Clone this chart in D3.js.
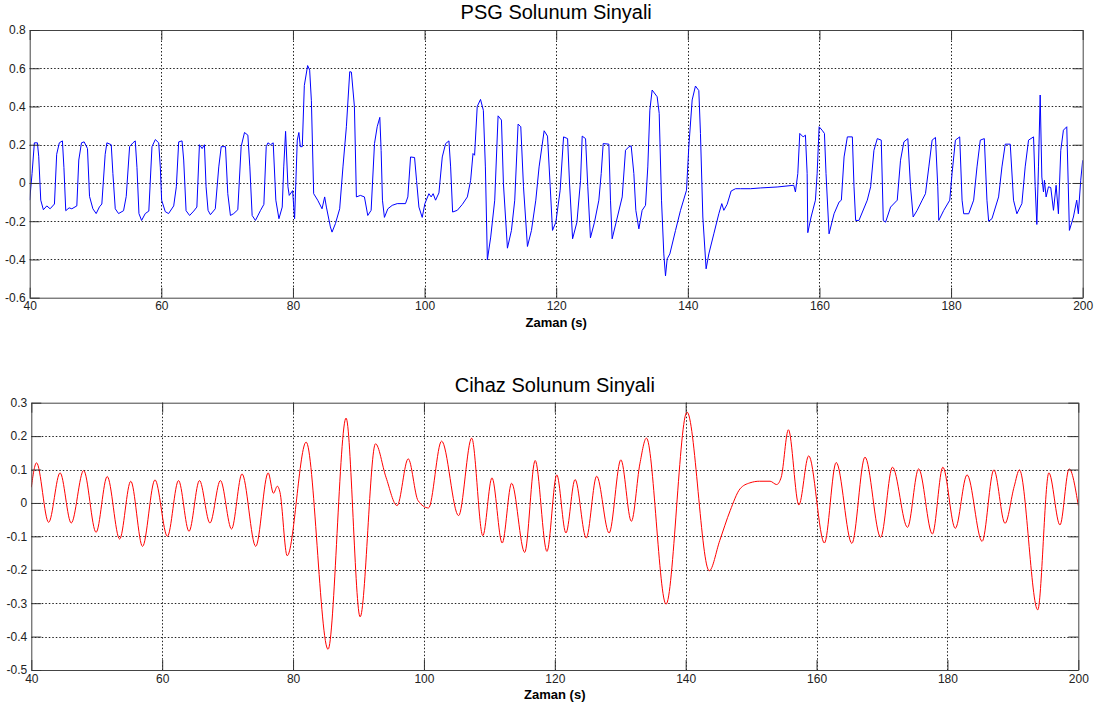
<!DOCTYPE html>
<html>
<head>
<meta charset="utf-8">
<script src="https://cdn.jsdelivr.net/npm/d3@7"></script>
<style>
  body { margin: 0; background: #fff; }
  svg { display: block; font-family: Arial, "Liberation Sans", sans-serif; }
</style>
</head>
<body>
<div id="chart"></div>
<script>
// time axis ticks shared by both panels
const timeTicks = [40, 60, 80, 100, 120, 140, 160, 180, 200];
const psgYTicks = [-0.6, -0.4, -0.2, 0, 0.2, 0.4, 0.6, 0.8];
const cihazYTicks = [-0.5, -0.4, -0.3, -0.2, -0.1, 0, 0.1, 0.2, 0.3];

// PSG signal, [time (s), value]
const psgSignal = [
  [40.0, -0.09], [40.36, 0.05], [40.71, 0.21], [41.17, 0.21], [41.37, 0.14], [41.68, -0.09],
  [42.08, -0.14], [42.6, -0.12], [43.1, -0.135], [43.76, -0.11], [44.1, 0.15], [44.5, 0.21],
  [44.97, 0.22], [45.2, 0.08], [45.48, -0.145], [45.99, -0.13], [46.4, -0.135], [47.16, -0.12],
  [47.46, 0.12], [47.87, 0.21], [48.27, 0.215], [48.78, 0.18], [49.09, -0.07], [49.6, -0.135],
  [50.1, -0.16], [50.6, -0.125], [50.96, -0.11], [51.47, 0.15], [51.73, 0.21], [52.39, 0.2],
  [52.64, 0.05], [53.0, -0.135], [53.5, -0.16], [54.26, -0.145], [54.67, -0.07], [55.18, 0.19],
  [55.69, 0.21], [56.04, 0.22], [56.3, 0.08], [56.6, -0.16], [57.0, -0.196], [57.56, -0.16],
  [58.1, -0.147], [58.58, 0.19], [59.09, 0.227], [59.6, 0.21], [59.85, 0.08], [60.05, -0.09],
  [60.6, -0.15], [61.1, -0.16], [61.88, -0.12], [62.28, -0.02], [62.64, 0.215], [63.15, 0.22],
  [63.4, 0.12], [63.76, -0.145], [64.3, -0.17], [64.92, -0.147], [65.4, -0.126], [65.79, 0.2],
  [66.2, 0.18], [66.55, 0.2], [66.8, -0.02], [67.1, -0.143], [67.46, -0.166], [68.2, -0.135],
  [68.73, 0.084], [69.1, 0.19], [69.75, 0.19], [70.1, -0.056], [70.5, -0.17], [71.0, -0.16],
  [71.62, -0.14], [72.13, 0.19], [72.64, 0.264], [73.15, 0.25], [73.45, 0.084], [73.8, -0.17],
  [74.3, -0.196], [75.08, -0.143], [75.58, -0.112], [75.94, 0.19], [76.2, 0.21], [76.6, 0.2],
  [77.0, 0.21], [77.4, -0.09], [77.87, -0.187], [78.37, -0.126], [78.6, 0.084], [78.88, 0.27],
  [79.24, -0.02], [79.44, -0.065], [79.95, -0.04], [80.25, -0.187], [80.66, 0.224], [80.9, 0.264],
  [81.12, 0.19], [81.42, 0.19], [81.73, 0.51], [82.23, 0.614], [82.54, 0.59], [82.8, 0.43],
  [83.15, -0.056], [83.76, -0.09], [84.42, -0.135], [84.82, -0.073], [85.08, -0.126], [85.69, -0.23],
  [85.94, -0.257], [86.45, -0.213], [87.1, -0.135], [87.6, 0.084], [88.12, 0.294], [88.63, 0.582],
  [88.88, 0.58], [89.34, 0.4], [89.64, -0.073], [90.25, -0.065], [90.86, -0.073], [91.37, -0.17],
  [91.88, -0.143], [92.39, 0.206], [92.8, 0.294], [93.2, 0.343], [93.4, 0.17], [93.6, -0.09],
  [93.9, -0.18], [94.42, -0.135], [95.08, -0.117], [95.84, -0.108], [97.1, -0.108], [97.46, -0.073],
  [97.87, 0.136], [98.48, 0.133], [98.78, 0.014], [99.14, -0.126], [99.64, -0.18], [100.05, -0.108],
  [100.66, -0.056], [101.0, -0.073], [101.3, -0.056], [101.67, -0.09], [102.18, -0.052], [102.69, 0.136],
  [103.2, 0.206], [103.7, 0.22], [103.96, 0.084], [104.26, -0.152], [104.97, -0.143], [105.74, -0.112],
  [106.5, -0.073], [107.0, 0.014], [107.36, 0.154], [107.6, 0.145], [108.0, 0.4], [108.5, 0.437],
  [108.93, 0.38], [109.24, 0.084], [109.54, -0.402], [110.05, -0.283], [110.66, -0.09], [111.17, 0.351],
  [111.68, 0.329], [111.98, -0.003], [112.59, -0.341], [113.2, -0.248], [113.7, -0.09], [114.21, 0.308],
  [114.62, 0.294], [115.03, -0.02], [115.63, -0.332], [116.24, -0.248], [116.9, -0.09], [117.4, 0.084],
  [118.17, 0.273], [118.68, 0.245], [119.09, -0.02], [119.44, -0.248], [119.95, -0.205], [120.6, -0.038],
  [121.12, 0.241], [121.73, 0.232], [122.03, -0.003], [122.49, -0.292], [123.15, -0.205], [123.7, 0.014],
  [123.95, 0.245], [124.46, 0.232], [124.8, -0.02], [125.2, -0.287], [125.82, -0.205], [126.48, -0.09],
  [126.84, 0.049], [127.14, 0.206], [128.0, 0.203], [128.25, -0.09], [128.5, -0.292], [129.11, -0.205],
  [130.03, -0.073], [130.53, 0.171], [131.04, 0.189], [131.39, 0.194], [131.8, 0.049], [132.1, -0.143],
  [132.56, -0.24], [133.06, -0.143], [133.57, -0.117], [133.92, 0.084], [134.23, 0.381], [134.58, 0.486],
  [135.34, 0.451], [135.65, 0.364], [136.0, -0.09], [136.35, -0.371], [136.61, -0.486], [136.86, -0.397],
  [137.27, -0.371], [138.13, -0.248], [138.89, -0.143], [139.8, -0.038], [140.15, 0.189], [140.66, 0.434],
  [141.16, 0.507], [141.67, 0.483], [141.92, 0.259], [142.28, -0.178], [142.78, -0.449], [143.19, -0.371],
  [143.95, -0.266], [144.71, -0.161], [145.16, -0.108], [145.47, -0.143], [145.97, -0.112], [146.58, -0.042],
  [147.25, -0.03], [148.0, -0.03], [149.52, -0.03], [151.04, -0.026], [153.57, -0.021], [156.1, -0.012],
  [156.35, -0.047], [156.71, 0.049], [157.01, 0.259], [157.52, 0.241], [157.87, 0.25], [158.13, 0.049],
  [158.23, -0.26], [158.73, -0.178], [159.39, -0.09], [159.65, 0.049], [159.95, 0.294], [160.4, 0.276],
  [160.76, 0.259], [161.0, 0.049], [161.46, -0.266], [162.22, -0.161], [162.98, -0.1], [163.33, -0.09],
  [163.74, 0.136], [164.24, 0.241], [165.0, 0.241], [165.25, -0.02], [165.5, -0.196], [166.0, -0.196],
  [167.27, -0.09], [167.78, -0.02], [168.28, 0.171], [168.79, 0.232], [169.39, 0.224], [169.7, -0.196],
  [170.05, -0.205], [170.81, -0.126], [171.82, -0.09], [172.32, 0.119], [172.83, 0.215], [173.43, 0.232],
  [173.84, -0.02], [174.24, -0.178], [174.85, -0.143], [175.61, -0.09], [176.11, -0.056], [176.62, 0.084],
  [177.12, 0.224], [177.63, 0.238], [177.98, -0.02], [178.13, -0.196], [178.89, -0.143], [179.8, -0.09],
  [180.15, 0.049], [180.66, 0.224], [181.31, 0.241], [181.67, -0.09], [181.92, -0.161], [182.68, -0.161],
  [183.43, -0.09], [183.94, 0.084], [184.44, 0.224], [185.05, 0.232], [185.45, -0.09], [185.71, -0.2],
  [186.21, -0.187], [187.22, -0.073], [187.73, 0.084], [188.23, 0.203], [188.99, 0.203], [189.49, -0.09],
  [190.0, -0.161], [190.76, -0.108], [191.26, 0.084], [191.77, 0.224], [192.53, 0.241], [192.78, -0.02],
  [193.03, -0.217], [193.28, 0.084], [193.54, 0.46], [193.79, 0.031], [194.04, -0.047], [194.19, 0.014],
  [194.44, -0.073], [194.8, -0.02], [195.15, -0.024], [195.56, -0.143], [195.96, -0.012], [196.31, -0.161],
  [196.67, 0.171], [197.07, 0.276], [197.58, 0.294], [197.98, -0.248], [198.59, -0.178], [199.09, -0.09],
  [199.34, -0.161], [199.7, 0.014], [200.0, 0.119]
];

// device signal, peaks and troughs [time (s), value]
const cihazSignal = [
  [40.0, 0.047], [40.8, 0.12], [42.65, -0.058], [44.4, 0.09], [46.1, -0.06], [48.0, 0.097],
  [49.9, -0.088], [51.6, 0.079], [53.5, -0.108], [55.2, 0.065], [57.0, -0.13], [58.9, 0.069],
  [60.8, -0.1], [62.5, 0.067], [64.1, -0.085], [65.7, 0.067], [67.3, -0.06], [68.9, 0.067],
  [70.6, -0.078], [72.2, 0.087], [74.3, -0.13], [76.2, 0.09], [77.0, 0.029], [77.6, 0.05],
  [78.0, 0.032], [79.1, -0.158], [82.0, 0.182], [85.35, -0.438], [88.1, 0.254], [90.25, -0.341],
  [92.6, 0.177], [94.2, 0.077], [95.9, -0.008], [97.6, 0.132], [99.1, 0.007], [100.7, -0.015],
  [102.7, 0.185], [105.3, -0.038], [107.3, 0.194], [109.0, -0.098], [110.4, 0.075], [111.96, -0.12],
  [113.4, 0.059], [115.4, -0.148], [117.0, 0.127], [118.8, -0.145], [120.3, 0.084], [121.7, -0.09],
  [123.1, 0.07], [124.8, -0.105], [126.4, 0.08], [128.3, -0.09], [130.1, 0.129], [131.7, -0.055],
  [133.0, 0.117], [134.0, 0.194], [137.0, -0.303], [140.2, 0.272], [143.6, -0.203], [145.2, -0.113],
  [146.8, -0.023], [148.3, 0.042], [149.8, 0.06], [151.3, 0.065], [152.9, 0.065], [153.9, 0.055],
  [154.6, 0.077], [155.7, 0.219], [157.3, -0.006], [158.8, 0.141], [161.2, -0.12], [163.0, 0.121],
  [165.4, -0.121], [167.4, 0.137], [169.8, -0.103], [171.6, 0.107], [173.9, -0.073], [175.6, 0.102],
  [177.7, -0.093], [179.3, 0.107], [181.2, -0.076], [183.0, 0.084], [185.3, -0.115], [187.1, 0.099],
  [188.8, -0.061], [190.2, 0.049], [191.0, 0.099], [193.8, -0.32], [195.5, 0.09], [197.2, -0.066],
  [198.6, 0.102], [200.0, -0.008]
];

const W = 1100, H = 709;

const svg = d3.select("#chart")
  .append("svg")
  .attr("width", W)
  .attr("height", H);

function drawPanel(opts) {
  const { left, right, top, bottom, yDomain, yTicks, data, color, title, curve, id } = opts;

  const x = d3.scaleLinear().domain([40, 200]).range([left, right]);
  const y = d3.scaleLinear().domain(yDomain).range([bottom, top]);

  const g = svg.append("g");

  // dotted grid
  g.append("g")
    .selectAll("line.vgrid")
    .data(timeTicks.slice(1, -1))
    .enter()
    .append("line")
    .attr("x1", d => Math.round(x(d)) + 0.5)
    .attr("x2", d => Math.round(x(d)) + 0.5)
    .attr("y1", top)
    .attr("y2", bottom)
    .attr("stroke", "#222")
    .attr("stroke-dasharray", "1.5,2")
    .attr("stroke-width", 1);

  g.append("g")
    .selectAll("line.hgrid")
    .data(yTicks.slice(1, -1))
    .enter()
    .append("line")
    .attr("x1", left)
    .attr("x2", right)
    .attr("y1", d => Math.round(y(d)) + 0.5)
    .attr("y2", d => Math.round(y(d)) + 0.5)
    .attr("stroke", "#222")
    .attr("stroke-dasharray", "1.5,2")
    .attr("stroke-width", 1);

  // signal
  svg.append("clipPath")
    .attr("id", id)
    .append("rect")
    .attr("x", left)
    .attr("y", top)
    .attr("width", right - left)
    .attr("height", bottom - top);

  const line = d3.line()
    .x(d => x(d[0]))
    .y(d => y(d[1]))
    .curve(curve);

  g.append("path")
    .datum(data)
    .attr("clip-path", `url(#${id})`)
    .attr("fill", "none")
    .attr("stroke", color)
    .attr("stroke-width", 1)
    .attr("d", line);

  // axes, ticks pointing inward like MATLAB
  const fmt = d => String(d);

  const axB = g.append("g")
    .attr("transform", `translate(0,${bottom})`)
    .call(d3.axisBottom(x).tickValues(timeTicks).tickFormat(fmt).tickSizeInner(-10).tickSizeOuter(0).tickPadding(4));
  const axT = g.append("g")
    .attr("transform", `translate(0,${top})`)
    .call(d3.axisTop(x).tickValues(timeTicks).tickFormat("").tickSizeInner(-10).tickSizeOuter(0));
  const axL = g.append("g")
    .attr("transform", `translate(${left},0)`)
    .call(d3.axisLeft(y).tickValues(yTicks).tickFormat(fmt).tickSizeInner(-10).tickSizeOuter(0).tickPadding(4));
  const axR = g.append("g")
    .attr("transform", `translate(${right},0)`)
    .call(d3.axisRight(y).tickValues(yTicks).tickFormat("").tickSizeInner(-10).tickSizeOuter(0));

  [axB, axT, axL, axR].forEach(a => {
    a.select(".domain").attr("stroke", "#444");
    a.selectAll(".tick line").attr("stroke", "#333");
    a.selectAll("text")
      .attr("fill", "#222")
      .style("font-size", "12px")
      .style("font-family", "Arial, 'Liberation Sans', sans-serif");
  });

  g.append("text")
    .attr("x", (left + right) / 2)
    .attr("y", top - 11)
    .attr("text-anchor", "middle")
    .attr("fill", "#000")
    .style("font-size", "20px")
    .text(title);

  g.append("text")
    .attr("x", (left + right) / 2)
    .attr("y", bottom + 29)
    .attr("text-anchor", "middle")
    .attr("fill", "#000")
    .style("font-size", "13px")
    .style("font-weight", "bold")
    .text("Zaman (s)");
}

drawPanel({
  id: "clip-psg",
  left: 29.7, right: 1082.7, top: 30, bottom: 297.7,
  yDomain: [-0.6, 0.8], yTicks: psgYTicks,
  data: psgSignal, color: "#0000ff",
  title: "PSG Solunum Sinyali",
  curve: d3.curveLinear
});

drawPanel({
  id: "clip-cihaz",
  left: 31.3, right: 1078.3, top: 402.7, bottom: 670,
  yDomain: [-0.5, 0.3], yTicks: cihazYTicks,
  data: cihazSignal, color: "#ff0000",
  title: "Cihaz Solunum Sinyali",
  curve: d3.curveMonotoneX
});
</script>
</body>
</html>
